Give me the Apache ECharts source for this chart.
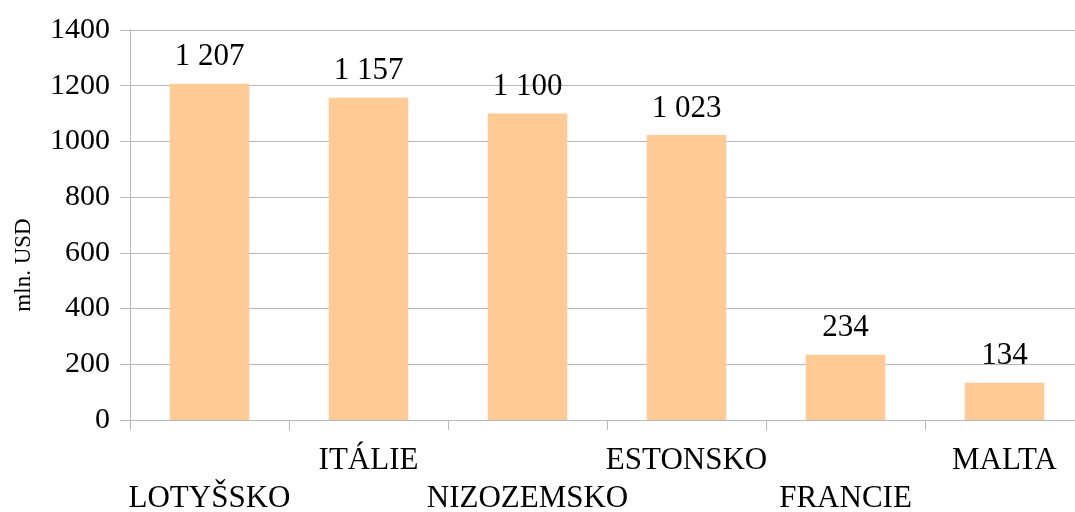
<!DOCTYPE html>
<html>
<head>
<meta charset="utf-8">
<script src="https://cdn.jsdelivr.net/npm/echarts@6/dist/echarts.min.js"></script>
<style>
html,body{margin:0;padding:0;background:#fff;}
#chart{width:1075px;height:512px;}
</style>
</head>
<body>
<div id="chart"></div>
<script>
var categories = ['LOTYŠSKO', 'ITÁLIE', 'NIZOZEMSKO', 'ESTONSKO', 'FRANCIE', 'MALTA'];
var values = [1207, 1157, 1100, 1023, 234, 134];
var yTicks = [0, 200, 400, 600, 800, 1000, 1200, 1400];
var yAxisTitle = 'mln. USD';

var FONT = '"Liberation Serif", "DejaVu Serif", serif';
var GRAY = '#b8b8b8';

function fmt(v) {
  return String(v).replace(/\B(?=(\d{3})+(?!\d))/g, ' ');
}

var chart = echarts.init(document.getElementById('chart'), null, {renderer: 'canvas'});
chart.setOption({
  animation: false,
  backgroundColor: '#ffffff',
  grid: {left: 130, right: -9, top: 30, bottom: 92, containLabel: false, outerBoundsMode: 'none'},
  xAxis: {
    type: 'category',
    data: categories,
    boundaryGap: true,
    axisLine: {show: true, lineStyle: {color: GRAY, width: 1}},
    axisTick: {show: true, length: 10, lineStyle: {color: GRAY}},
    axisLabel: {
      interval: 0,
      margin: 22,
      fontFamily: FONT,
      fontSize: 31,
      color: '#000',
      lineHeight: 38,
      formatter: function (v, i) { return i % 2 === 0 ? '\n' + v : v; }
    },
    splitLine: {show: false}
  },
  yAxis: {
    type: 'value',
    min: yTicks[0],
    max: yTicks[yTicks.length - 1],
    interval: 200,
    name: yAxisTitle,
    nameLocation: 'middle',
    nameGap: 95,
    nameRotate: 90,
    nameTextStyle: {fontFamily: FONT, fontSize: 23, color: '#000', padding: [0, 80, 0, 0]},
    axisLine: {show: true, lineStyle: {color: GRAY, width: 1}},
    axisTick: {show: true, length: 10, lineStyle: {color: GRAY}},
    axisLabel: {
      margin: 20, fontFamily: FONT, fontSize: 30, color: '#000',
      formatter: function (v) { return String(v); }
    },
    splitLine: {show: true, lineStyle: {color: GRAY, width: 1}}
  },
  series: [{
    type: 'bar',
    data: values,
    barWidth: '50%',
    itemStyle: {color: '#FFCA96'},
    label: {
      show: true,
      position: 'top',
      distance: 11,
      fontFamily: FONT,
      fontSize: 31,
      color: '#000',
      formatter: function (p) { return fmt(p.value); }
    }
  }]
});
</script>
</body>
</html>
